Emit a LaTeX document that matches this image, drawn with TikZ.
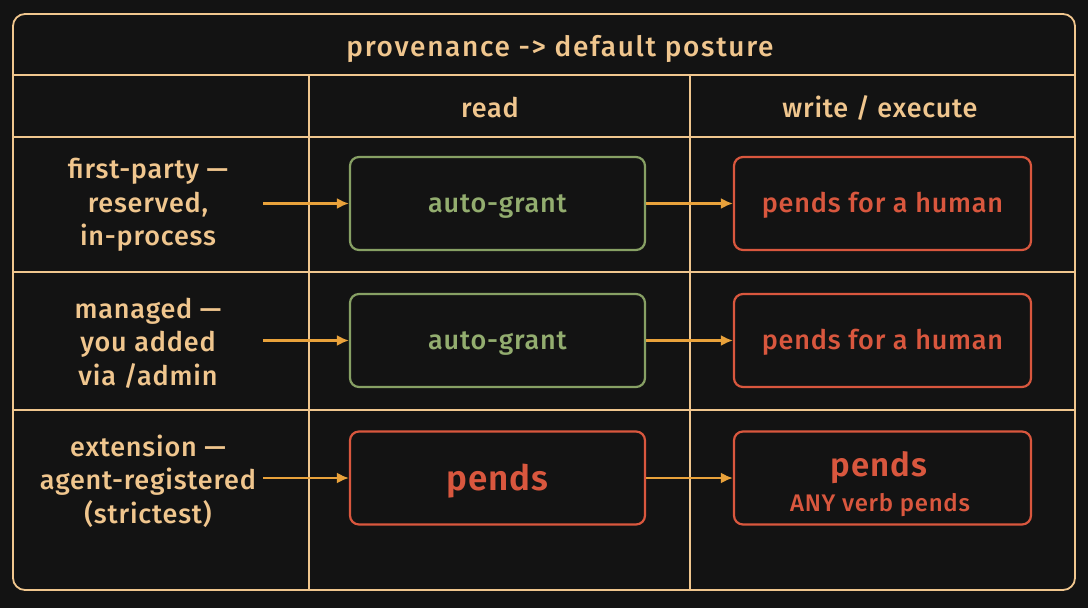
\documentclass[tikz,border=0pt]{standalone}
\usepackage{fontspec}
\setmainfont{Fira Sans}[UprightFont={* Medium},BoldFont={* SemiBold},LetterSpace=3]
\usetikzlibrary{arrows.meta}
\definecolor{bgdark}{HTML}{131313}
\definecolor{peach}{HTML}{F0C68E}
\definecolor{sage}{HTML}{93AD6F}
\definecolor{sageline}{HTML}{87A064}
\definecolor{rust}{HTML}{D9573E}
\definecolor{amber}{HTML}{E9A23B}
\tikzset{
  grid/.style={draw=peach,line width=1.8pt},
  label/.style={text=peach,font=\fontsize{27}{33.5}\selectfont,align=center},
  head/.style={text=peach,font=\fontsize{27}{30}\selectfont},
  grantbox/.style={draw=sageline,line width=2.2pt,rounded corners=9pt,minimum width=295pt,minimum height=93pt,text=sage,font=\fontsize{27}{30}\selectfont,text height=20pt,text depth=3pt},
  pendbox/.style={draw=rust,line width=2.2pt,rounded corners=9pt,minimum width=297pt,minimum height=93pt,text=rust,font=\fontsize{27}{30}\selectfont,text height=20pt,text depth=3pt},
  pendtext/.style={text=rust,anchor=base,inner sep=0pt},
  flow/.style={draw=amber,line width=2.2pt,-{Latex[length=12pt,width=11pt]}}
}
\begin{document}
\begin{tikzpicture}[x=1pt,y=-1pt]
        % background and frame
        \useasboundingbox (0,0) rectangle (1088,608);
        \fill[bgdark] (0,0) rectangle (1088,608);
        \draw[grid,rounded corners=12pt] (13,14) rectangle (1075,590);
        % table lines
        \draw[grid] (13,75) -- (1075,75);\draw[grid] (13,137) -- (1075,137);
        \draw[grid] (13,272) -- (1075,272);\draw[grid] (13,410) -- (1075,410);
        \draw[grid] (309,75) -- (309,590);\draw[grid] (690,75) -- (690,590);
        % headings
        \node[head,font=\addfontfeature{LetterSpace=6}\fontsize{28}{30}\selectfont] (title) at (560,48.5) {provenance -> default posture};
        \node[head] (read) at (490,108) {read};
        \node[head] (write) at (880,108) {write / execute};
        % first row
        \node[label] (first) at (148,205) {first-party —\\reserved,\\in-process};
        \node[grantbox] (firstread) at (497.5,203.5) {auto-grant};
        \node[pendbox] (firstwrite) at (882.5,203.5) {pends for a human};
        \coordinate (firstin) at (263,203.5);
        \draw[flow] (firstin) -- (firstread);\draw[flow] (firstread) -- (firstwrite);
        % second row
        \node[label] (managed) at (148,343) {managed —\\you added\\via /admin};
        \node[grantbox] (managedread) at (497.5,340.5) {auto-grant};
        \node[pendbox] (managedwrite) at (882.5,340.5) {pends for a human};
        \coordinate (managedin) at (263,340.5);
        \draw[flow] (managedin) -- (managedread);\draw[flow] (managedread) -- (managedwrite);
        % third row
        \node[label] (extension) at (148,481) {extension —\\agent-registered\\(strictest)};
        \node[pendbox,minimum width=295pt,font=\fontsize{35}{38}\selectfont\bfseries,text height=27pt,text depth=3pt] (extread) at (497.5,478) {pends};
        \node[pendbox] (extwrite) at (882.5,478) {};
        \node[pendtext,font=\fontsize{33}{36}\selectfont\bfseries] (extwritemain) at (879,476) {pends};
        \node[pendtext,font=\fontsize{24}{26}\selectfont] (extwritesub) at (880,511) {ANY verb pends};
        \coordinate (extin) at (263,478);
        \draw[flow] (extin) -- (extread);\draw[flow] (extread) -- (extwrite);
    \end{tikzpicture}
\end{document}
